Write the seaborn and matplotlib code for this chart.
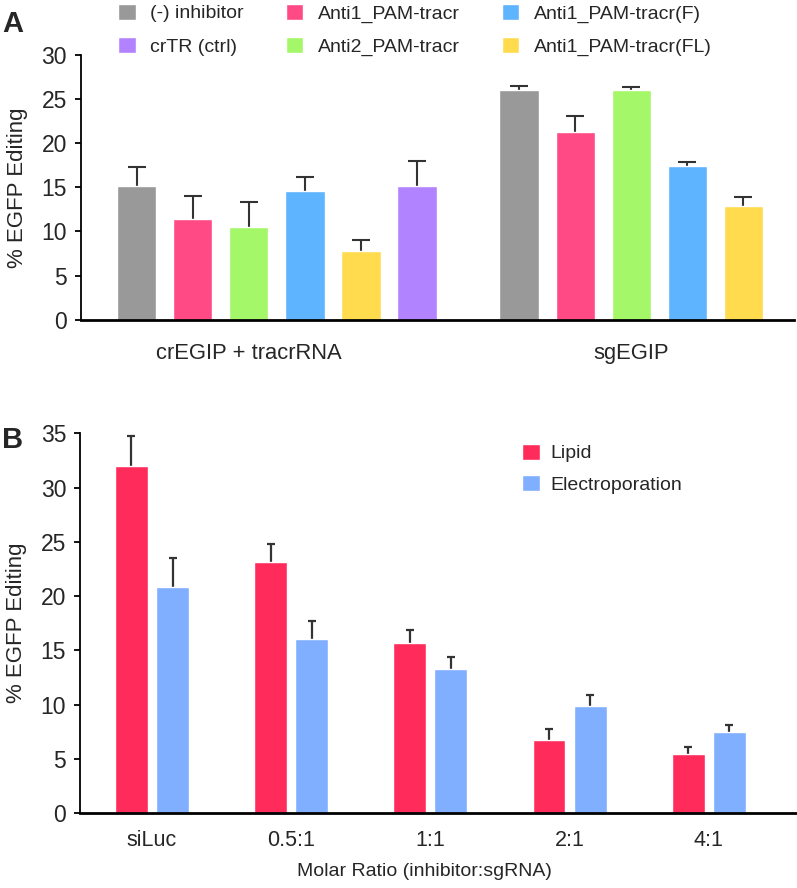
import matplotlib
matplotlib.use("Agg")
import matplotlib.pyplot as plt
import seaborn as sns
import numpy as np
import pandas as pd

sns.set_theme(style="white")
plt.rcParams['font.family'] = ['Liberation Sans', 'DejaVu Sans']

# ---------------- data: panel A ----------------
groups_a = ['crEGIP + tracrRNA', 'sgEGIP']
inhibitors = ['(-) inhibitor', 'Anti1_PAM-tracr', 'Anti2_PAM-tracr',
              'Anti1_PAM-tracr(F)', 'Anti1_PAM-tracr(FL)', 'crTR (ctrl)']
colors_a = ['#999999', '#FF4A85', '#A4F768', '#5EB4FF', '#FFDB4D', '#B283FF']

# mean values, crEGIP + tracrRNA (6 bars) and sgEGIP (no crTR bar)
vals_cr = [15.2, 11.4, 10.5, 14.6, 7.8, 15.1]
errs_cr = [2.1, 2.6, 2.8, 1.6, 1.2, 2.9]
vals_sg = [26.05, 21.3, 26.05, 17.4, 12.9]
errs_sg = [0.45, 1.8, 0.3, 0.45, 1.0]

# ---------------- data: panel B ----------------
ratios = ['siLuc', '0.5:1', '1:1', '2:1', '4:1']
methods = ['Lipid', 'Electroporation']
colors_b = ['#FF2B5B', '#80AFFF']
lipid_vals = [32.0, 23.1, 15.7, 6.7, 5.4]
lipid_errs = [2.8, 1.7, 1.2, 1.0, 0.7]
elec_vals = [20.8, 16.0, 13.3, 9.9, 7.45]
elec_errs = [2.7, 1.7, 1.1, 0.95, 0.65]

df_a = pd.DataFrame({
    'group': [groups_a[0]] * len(vals_cr) + [groups_a[1]] * len(vals_sg),
    'inhibitor': inhibitors[:len(vals_cr)] + inhibitors[:len(vals_sg)],
    'value': vals_cr + vals_sg,
    'err': errs_cr + errs_sg,
})
df_b = pd.DataFrame({
    'ratio': ratios * 2,
    'method': [methods[0]] * len(ratios) + [methods[1]] * len(ratios),
    'value': lipid_vals + elec_vals,
    'err': lipid_errs + elec_errs,
})


def add_errbars(ax, df, hue_col, hue_order, capsize, lw):
    # upper-only error bars placed on the bars seaborn drew
    for level, cont in zip(hue_order, ax.containers):
        sub = df[df[hue_col] == level]
        for bar in cont:
            h = bar.get_height()
            row = sub.iloc[(sub['value'] - h).abs().argmin()]
            xc = bar.get_x() + bar.get_width() / 2
            eb = ax.errorbar(xc, h, yerr=[[0], [row['err']]], fmt='none',
                             ecolor='#333333', elinewidth=lw,
                             capsize=capsize, capthick=lw, zorder=1)
            eb[1][0].set_visible(False)  # drop the lower cap


def style_axis(ax, ymax):
    sns.despine(ax=ax)
    ax.spines['left'].set_color('black')
    ax.spines['left'].set_linewidth(1.3)
    ax.spines['bottom'].set_color('black')
    ax.spines['bottom'].set_linewidth(2.0)
    ax.set_ylim(0, ymax)
    ax.set_yticks(np.arange(0, ymax + 1, 5))
    ax.tick_params(axis='y', left=True, length=4, width=1.3, color='black',
                   labelsize=16.5, pad=6)
    ax.tick_params(axis='x', bottom=False)


fig = plt.figure(figsize=(7.97, 8.88), dpi=100)

# ---------------- panel A ----------------
ax1 = fig.add_axes([0.1016, 0.640, 0.8946, 0.298])
width_a = 0.88
sns.barplot(data=df_a, x='group', y='value', hue='inhibitor',
            order=groups_a, hue_order=inhibitors, palette=colors_a,
            width=width_a, gap=0.3, errorbar=None, saturation=1,
            ax=ax1, zorder=2)
add_errbars(ax1, df_a, 'inhibitor', inhibitors, capsize=6.5, lw=1.5)
style_axis(ax1, 30)
slot = width_a / len(inhibitors)
ax1.set_xlim(-0.512, 1.352)
ax1.set_xticks([i - slot / 2 for i in range(len(groups_a))], labels=groups_a)
ax1.tick_params(axis='x', labelsize=15.8, pad=11)
ax1.set_xlabel('')
ax1.set_ylabel('% EGFP Editing', fontsize=16, labelpad=10)

handles, labels = ax1.get_legend_handles_labels()
ax1.get_legend().remove()
leg_order = ['(-) inhibitor', 'crTR (ctrl)', 'Anti1_PAM-tracr',
             'Anti2_PAM-tracr', 'Anti1_PAM-tracr(F)', 'Anti1_PAM-tracr(FL)']
hmap = dict(zip(labels, handles))
fig.legend([hmap[l] for l in leg_order], leg_order, ncol=3,
           loc='upper left', bbox_to_anchor=(0.146, 0.998), frameon=False,
           fontsize=14, handlelength=0.9, handleheight=0.9,
           handletextpad=0.75, columnspacing=2.15, labelspacing=0.75,
           borderpad=0.1, borderaxespad=0)

# ---------------- panel B ----------------
ax2 = fig.add_axes([0.1004, 0.0845, 0.8996, 0.4275])
sns.barplot(data=df_b, x='ratio', y='value', hue='method',
            order=ratios, hue_order=methods, palette=colors_b,
            width=0.59, gap=0.2, errorbar=None, saturation=1,
            ax=ax2, zorder=2)
add_errbars(ax2, df_b, 'method', methods, capsize=2.7, lw=1.6)
style_axis(ax2, 35)
ax2.set_xlim(-0.517, 4.634)
ax2.tick_params(axis='x', labelsize=15.5, pad=6)
ax2.set_xlabel('Molar Ratio (inhibitor:sgRNA)', fontsize=14)
ax2.xaxis.set_label_coords(0.48, -0.132)
ax2.set_ylabel('% EGFP Editing', fontsize=16, labelpad=10)
ax2.legend(loc='upper left', bbox_to_anchor=(0.617, 0.973), frameon=False,
           fontsize=14, handlelength=0.9, handleheight=0.9,
           handletextpad=0.55, labelspacing=0.65, borderpad=0,
           borderaxespad=0)

# panel letters
fig.text(0.003, 0.973, 'A', fontsize=21, fontweight='bold', va='center')
fig.text(0.003, 0.504, 'B', fontsize=21, fontweight='bold', va='center')

fig.savefig('out.png', dpi=100)
